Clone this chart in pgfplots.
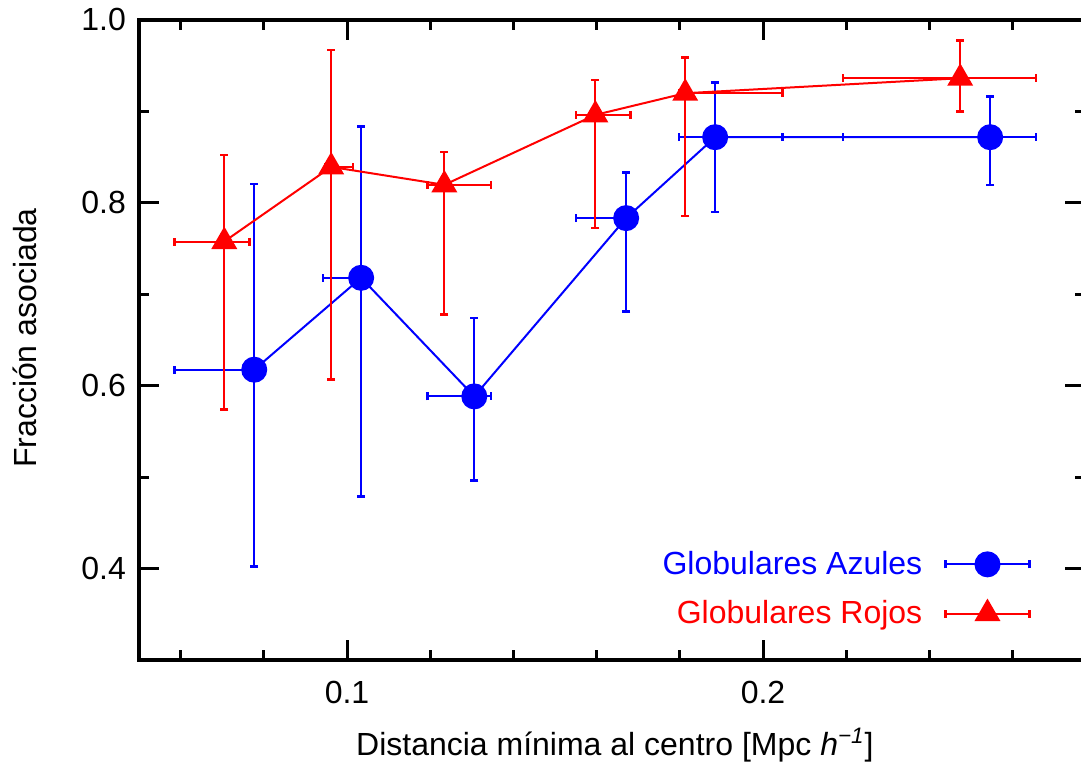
\documentclass[border=0pt]{standalone}
\usepackage{pgfplots}
\pgfplotsset{compat=1.18}
\usepackage{pgfplotstable}
\usepackage{fontspec}
\setmainfont{Liberation Sans}
\definecolor{gblue}{RGB}{0,0,255}
\definecolor{gred}{RGB}{255,0,0}

\pgfplotstableread{
x      y      xm     xp     ym     yp
0.0777 0.6175 0.0192 0.0015 0.2150 0.2033
0.1034 0.7180 0.0092 0.0015 0.2393 0.1654
0.1306 0.5883 0.0112 0.0040 0.0918 0.0857
0.1671 0.7833 0.0121 0.0015 0.1021 0.0498
0.1885 0.8718 0.0087 0.0162 0.0820 0.0601
0.2546 0.8718 0.0354 0.0110 0.0521 0.0444
}\blue

\pgfplotstableread{
x      y      xm     xp     ym     yp
0.0705 0.7577 0.0120 0.0060 0.1839 0.0948
0.0962 0.8393 0.0015 0.0052 0.2327 0.1279
0.1234 0.8197 0.0040 0.0112 0.1421 0.0357
0.1597 0.8962 0.0047 0.0084 0.1239 0.0382
0.1813 0.9199 0.0015 0.0234 0.1341 0.0393
0.2474 0.9363 0.0282 0.0182 0.0365 0.0411
}\red

\begin{document}
\begin{tikzpicture}[font=\fontsize{16}{19}\selectfont]
\begin{axis}[
  scale only axis,
  width=473pt, height=320pt,
  xmin=0.05, xmax=0.2774,
  ymin=0.3, ymax=1.0,
  axis line style={line width=2pt},
  tick style={line width=1.5pt, black},
  major tick length=10pt,
  minor tick length=5pt,
  tick align=inside,
  xtick={0.1,0.2},
  minor xtick={0.06,0.08,0.12,0.14,0.16,0.18,0.22,0.24,0.26},
  ytick={0.4,0.6,0.8,1.0},
  minor ytick={0.5,0.7,0.9},
  xticklabels={0.1,0.2},
  yticklabels={0.4,0.6,0.8,1.0},
  xticklabel style={yshift=-7pt},
  yticklabel style={xshift=-3pt},
  xlabel={Distancia mínima al centro [Mpc \textit{h}\textsuperscript{\textit{−1}}]},
  ylabel={Fracción asociada},
  every axis x label/.style={at={(rel axis cs:0.503,0)}, yshift=-42.5pt, anchor=center},
  every axis y label/.style={at={(rel axis cs:0,0.503)}, xshift=-57pt, rotate=90, anchor=center},
  legend plot pos=right,
  legend cell align=right,
  legend style={draw=none, fill=none, at={(rel axis cs:0.943,0.111)}, anchor=east,
    inner sep=0pt, row sep=7.5pt, font=\fontsize{16}{19}\selectfont},
  legend image code/.code={
    \draw[#1] (0pt,0pt) -- (42pt,0pt);
    \draw[#1, line width=1.2pt] (0pt,-2pt) -- (0pt,2pt);
    \draw[#1, line width=1.2pt] (42pt,-2pt) -- (42pt,2pt);
    \draw[#1] plot coordinates {(21pt,0pt)};
  },
]
\addplot[gblue, line width=1pt, mark=*, mark size=6pt,
  error bars/.cd, x dir=both, x explicit, y dir=both, y explicit,
  error bar style={line width=1pt},
  error mark options={rotate=90, line width=1.3pt, mark size=2pt}]
  table[x=x, y=y, x error plus=xp, x error minus=xm, y error plus=yp, y error minus=ym] {\blue};
\addlegendentry{\textcolor{gblue}{Globulares Azules}\hspace*{9pt}}
\addplot[gred, line width=1pt, mark=triangle*, mark size=6.5pt,
  error bars/.cd, x dir=both, x explicit, y dir=both, y explicit,
  error bar style={line width=1pt},
  error mark options={rotate=90, line width=1.3pt, mark size=2pt}]
  table[x=x, y=y, x error plus=xp, x error minus=xm, y error plus=yp, y error minus=ym] {\red};
\addlegendentry{\textcolor{gred}{Globulares Rojos}\hspace*{9pt}}
\end{axis}
\pgfresetboundingbox
\path[use as bounding box] ([xshift=-69.5pt,yshift=-53.5pt]current axis.south west) rectangle ([xshift=-2pt,yshift=10pt]current axis.north east);
\end{tikzpicture}
\end{document}
